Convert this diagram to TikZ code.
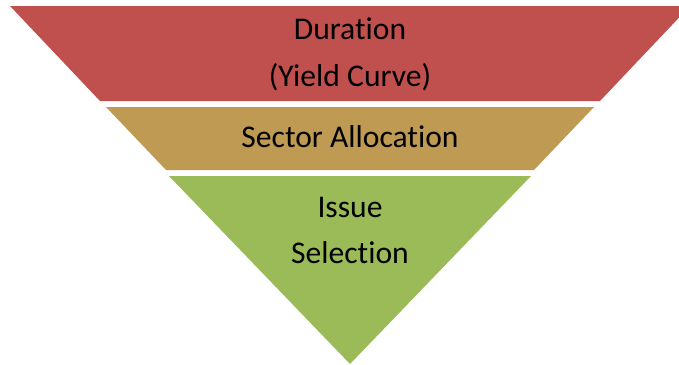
\documentclass[tikz,border=0pt]{standalone}
\usepackage{fontspec}
\setmainfont[Ligatures={NoCommon}]{Carlito}
\definecolor{tierred}{HTML}{C0504D}
\definecolor{tiergold}{HTML}{BE9A53}
\definecolor{tiergreen}{HTML}{9BBB59}
\begin{document}
\begin{tikzpicture}[x=1pt,y=-1pt,
  lbl/.style={anchor=base,inner sep=0pt,font=\fontsize{31.6}{36}\selectfont,text=black}]
\useasboundingbox (0,0) rectangle (679,364);
\begin{scope}
\clip (0,0) rectangle (679,364);
\fill[tierred] (10,6) -- (690,6) -- (600,101) -- (100,101) -- cycle;
\fill[tiergold] (106,107) -- (594,107) -- (534,170) -- (166,170) -- cycle;
\fill[tiergreen] (169,176) -- (531,176) -- (350,364) -- cycle;
\end{scope}
\node[lbl] (dur) at (350,39) {Duration};
\node[lbl] (yc) at (350,86) {(Yield Curve)};
\node[lbl] (sec) at (350,147.5) {Sector Allocation};
\node[lbl] (iss) at (350,217) {Issue};
\node[lbl] (sel) at (350,263) {Selection};
\end{tikzpicture}
\end{document}
